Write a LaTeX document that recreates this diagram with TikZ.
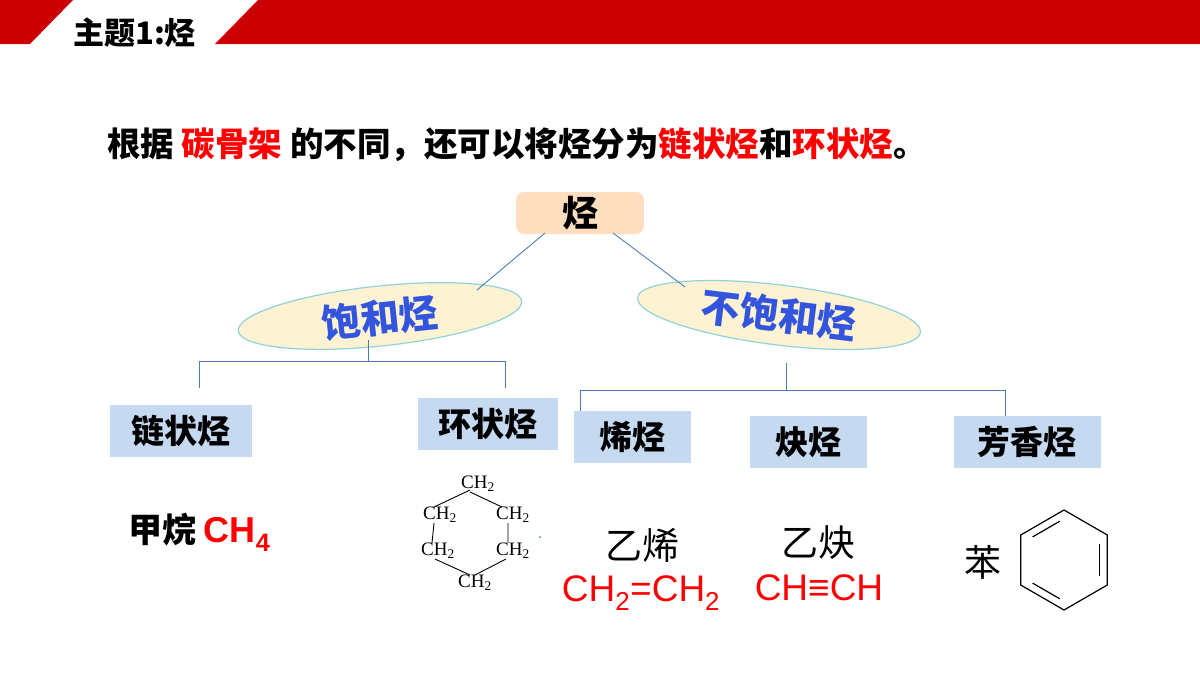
\documentclass[tikz,border=0pt]{standalone}
\usepackage{fontspec}
\setmainfont{Noto Sans CJK SC}
\newfontfamily\lat{Liberation Sans}
\newfontfamily\ser{Liberation Serif}
\usetikzlibrary{shapes.geometric,calc}
\definecolor{hred}{HTML}{CC0000}
\definecolor{tred}{HTML}{FF0000}
\definecolor{lblue}{HTML}{4A7EBB}
\definecolor{boxb}{HTML}{C5D9F1}
\definecolor{ell}{HTML}{FDF3D3}
\definecolor{ellb}{HTML}{8FD3DA}
\definecolor{tblue}{HTML}{3355DD}
\begin{document}
\begin{tikzpicture}[x=1pt,y=-1pt,
  conn/.style={draw=lblue,line width=0.9pt},
  cat/.style={fill=boxb,minimum height=52pt,inner sep=0pt,font=\fontsize{33}{33}\selectfont\bfseries},
  oval/.style={ellipse,fill=ell,draw=ellb,line width=1.2pt,minimum width=285pt,minimum height=60pt},
  oval text/.style={text=tblue,font=\fontsize{39}{39}\selectfont\bfseries},
  ch/.style={font=\ser\fontsize{19}{19}\selectfont,inner sep=0pt},
  red/.style={text=tred,font=\lat\fontsize{37}{37}\selectfont},
  zh/.style={font=\fontsize{37}{37}\selectfont}]
\useasboundingbox (0,0) rectangle (1200,675);
% header
\fill[hred] (0,0) -- (73,0) -- (30,44) -- (0,44) -- cycle;
\fill[hred] (258,0) -- (1200,0) -- (1200,44) -- (215,44) -- cycle;
\node[anchor=west,inner sep=0pt,font=\fontsize{31}{31}\selectfont\bfseries] (head) at (73,33) {主题1:烃};
% title
\node[anchor=west,inner sep=0pt,font=\fontsize{33.5}{33.5}\selectfont\bfseries] (title) at (107,145)
 {根据 \textcolor{tred}{碳骨架} 的不同，还可以将烃分为\textcolor{tred}{链状烃}和\textcolor{tred}{环状烃}。};
% root
\node[fill=orange!25,rounded corners=8pt,minimum width=128pt,minimum height=42pt,font=\fontsize{36}{36}\selectfont\bfseries] (root) at (580,213) {烃};
% ellipses
\node[oval,rotate=6] (sat) at (380,316) {};
\node[oval text,rotate=6] (satt) at (380,318) {饱和烃};
\node[oval,rotate=-7] (uns) at (779,315) {};
\node[oval text,rotate=-7] (unst) at (779,315) {不饱和烃};
\coordinate (r1) at (545,233); \coordinate (r2) at (613,233);
\coordinate (s1) at (477,290); \coordinate (u1) at (685,287);
\draw[conn] (r1) -- (s1); \draw[conn] (r2) -- (u1);
% boxes
\node[cat,minimum width=142pt] (lian) at (181,431) {链状烃};
\node[cat,minimum width=140pt] (huan) at (488,424) {环状烃};
\node[cat,minimum width=117pt] (xi) at (632,437) {烯烃};
\node[cat,minimum width=117pt] (que) at (808,442) {炔烃};
\node[cat,minimum width=147pt] (fang) at (1027,442) {芳香烃};
% tree lines
\coordinate (sb) at (368,340); \coordinate (sh) at (368,361);
\coordinate (la) at (199,361); \coordinate (lb) at (199,388);
\coordinate (ha) at (505,361); \coordinate (hb) at (505,388);
\draw[conn] (sb) -- (sh); \draw[conn] (lb) -- (la) -- (ha) -- (hb);
\coordinate (ub) at (786,363); \coordinate (uh) at (786,390);
\coordinate (xa) at (580,390); \coordinate (fa) at (1005,390);
\draw[conn] (ub) -- (uh); \draw[conn] (xi.north -| xa) -- (xa) -- (fa) -- (fang.north -| fa);
% examples
\node[inner sep=0pt,anchor=west] (ch4) at (128,532) {\fontsize{34}{34}\selectfont\bfseries 甲烷 \textcolor{tred}{\lat\bfseries\fontsize{36}{36}\selectfont CH\textsubscript{4}}};
\node[ch] (c1) at (478,484) {CH\textsubscript{2}};
\node[ch] (c2) at (513,515) {CH\textsubscript{2}};
\node[ch] (c3) at (513,551) {CH\textsubscript{2}};
\node[ch] (c4) at (475,583) {CH\textsubscript{2}};
\node[ch] (c5) at (438,551) {CH\textsubscript{2}};
\node[ch] (c6) at (440,515) {CH\textsubscript{2}};
\draw[line width=0.9pt] (470,492) -- (502,507) (508,523) -- (508,543) (506,559) -- (475,575) (470,575) -- (435,559) (432,543) -- (434,523) (434,507) -- (470,490);
\fill[lblue] (540,537) circle (1pt);
\node[zh] (yx) at (642,545) {乙烯};
\node[red] (yxf) at (641,593) {CH\textsubscript{2}=CH\textsubscript{2}};
\node[zh] (yq) at (818,543) {乙炔};
\node[red] (yqf) at (819,588) {CH≡CH};
\node[zh] (ben) at (983,562) {苯};
\node[regular polygon,regular polygon sides=6,shape border rotate=30,minimum size=100pt,draw,line width=1.2pt,inner sep=0pt] (hex) at (1064,560) {};
\node[regular polygon,regular polygon sides=6,shape border rotate=30,minimum size=82pt,inner sep=0pt] (hin) at (1064,560) {};
\foreach \a/\b in {1/2,3/4,5/6}
  \draw[line width=1.2pt] ($(hin.corner \a)!0.12!(hin.corner \b)$) -- ($(hin.corner \b)!0.12!(hin.corner \a)$);
\end{tikzpicture}
\end{document}
